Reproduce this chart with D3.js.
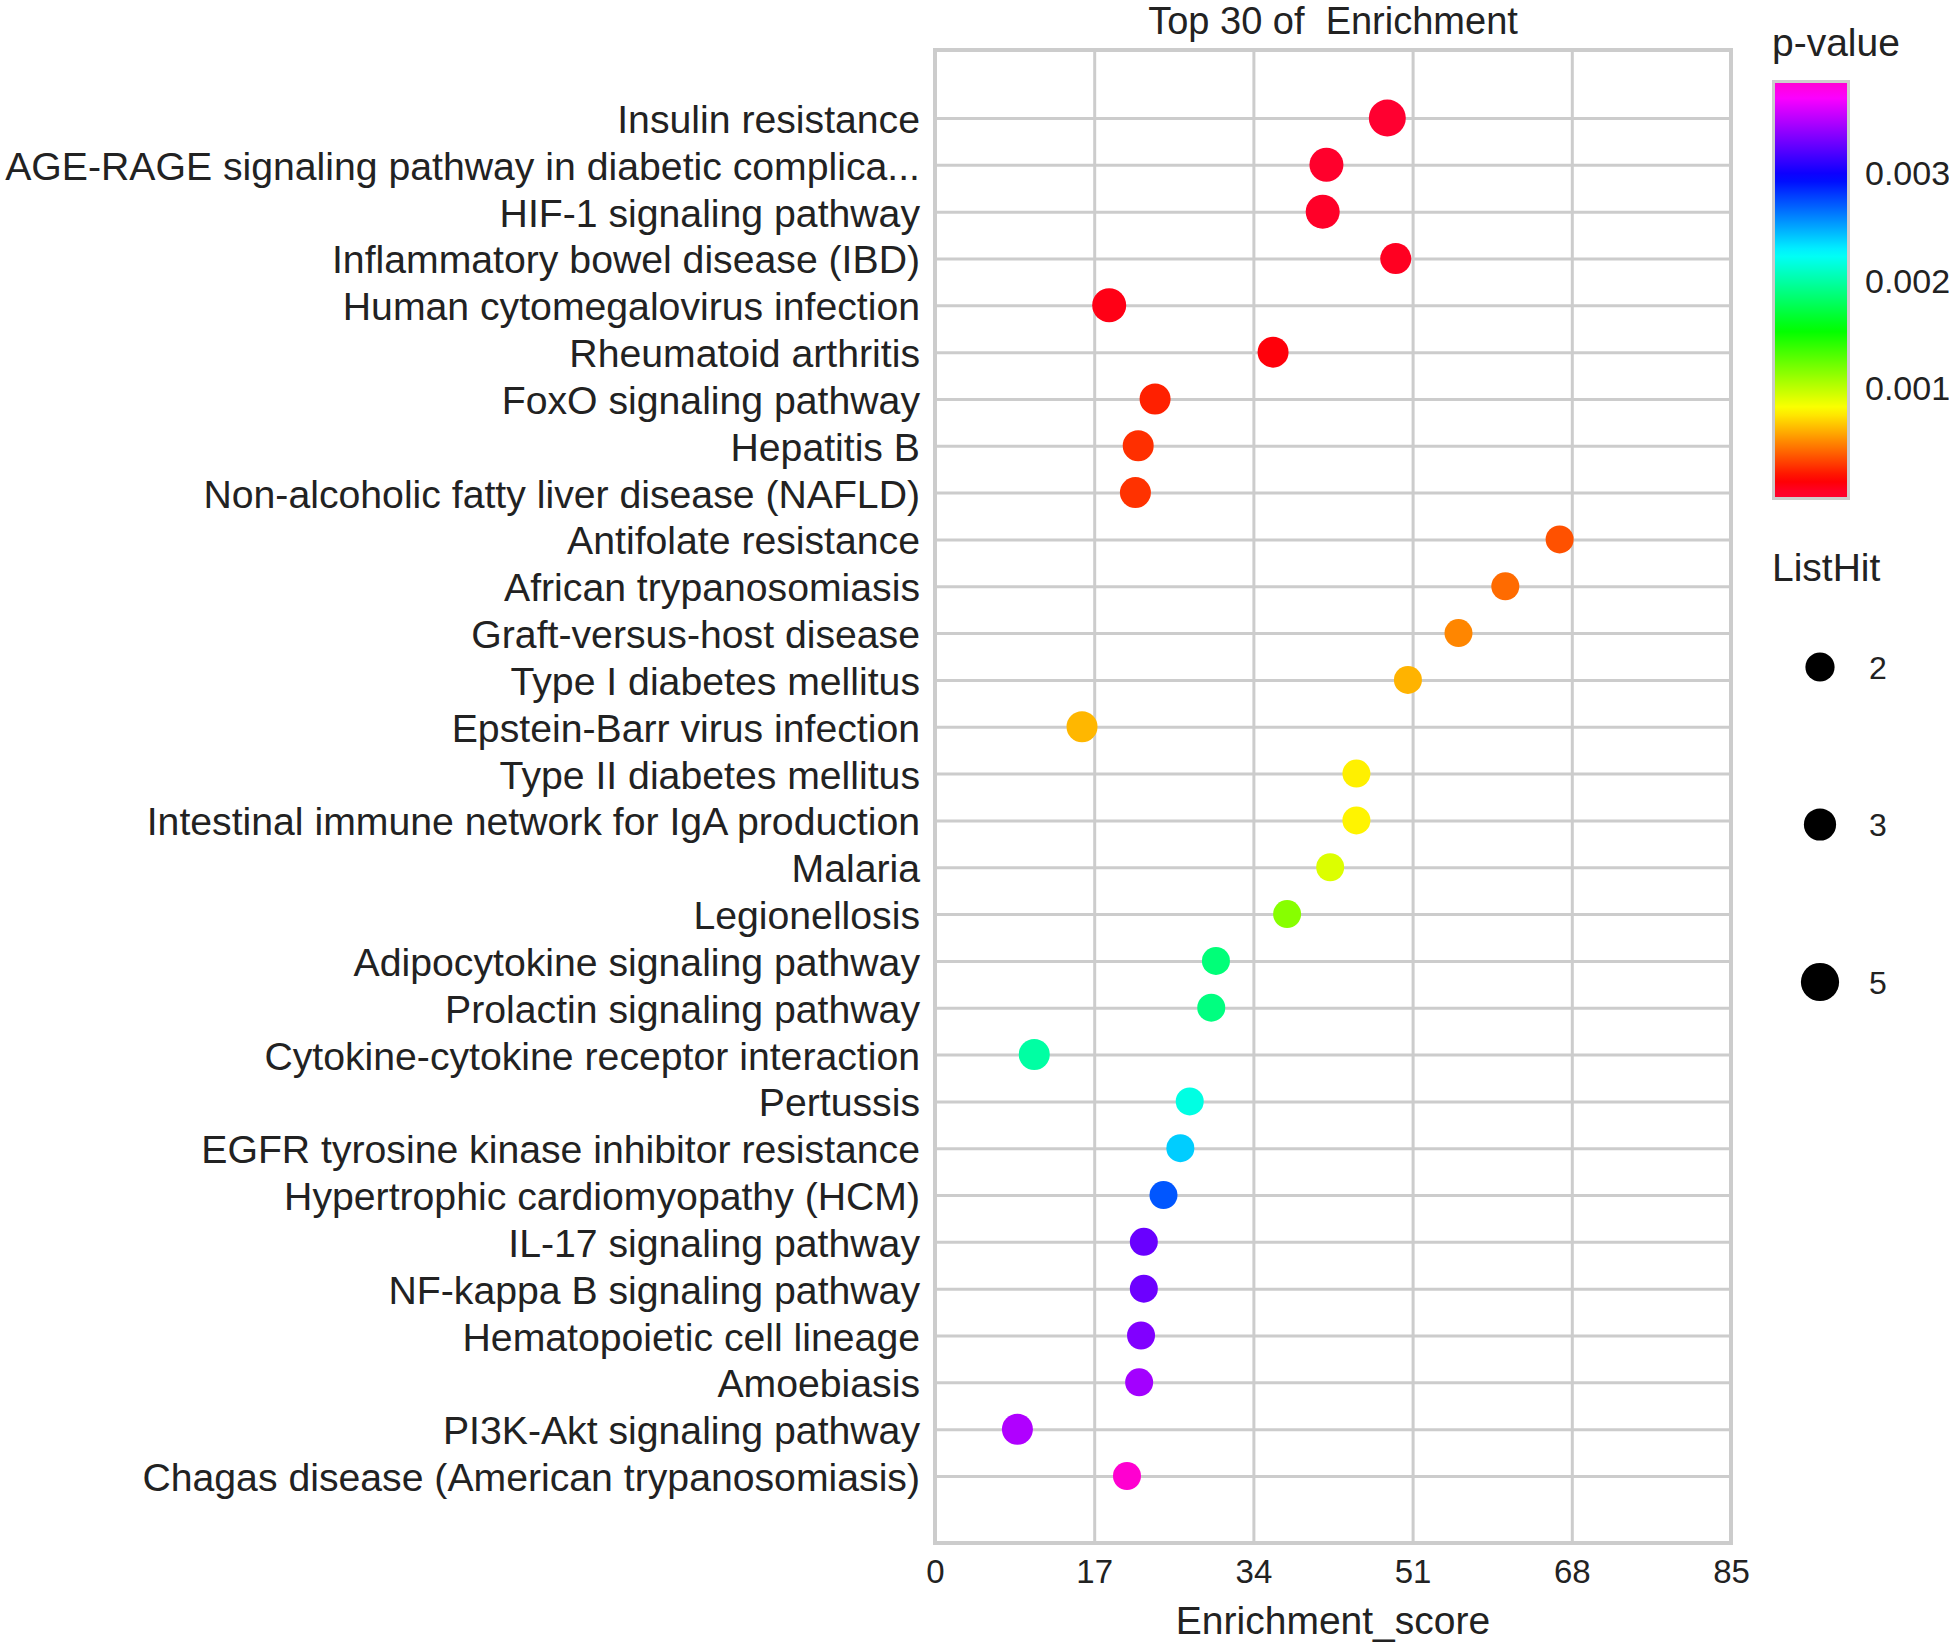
<!DOCTYPE html>
<html>
<head>
<meta charset="utf-8">
<script src="https://cdn.jsdelivr.net/npm/d3@7"></script>
<style>
  body { margin: 0; background: #fff; }
  text { font-family: "Liberation Sans", Arial, sans-serif; fill: #222; }
</style>
</head>
<body>
<svg id="chart" width="1949" height="1642"></svg>
<script>
// KEGG pathways, top to bottom (sorted by p-value)
const pathways = [
  'Insulin resistance',
  'AGE-RAGE signaling pathway in diabetic complica...',
  'HIF-1 signaling pathway',
  'Inflammatory bowel disease (IBD)',
  'Human cytomegalovirus infection',
  'Rheumatoid arthritis',
  'FoxO signaling pathway',
  'Hepatitis B',
  'Non-alcoholic fatty liver disease (NAFLD)',
  'Antifolate resistance',
  'African trypanosomiasis',
  'Graft-versus-host disease',
  'Type I diabetes mellitus',
  'Epstein-Barr virus infection',
  'Type II diabetes mellitus',
  'Intestinal immune network for IgA production',
  'Malaria',
  'Legionellosis',
  'Adipocytokine signaling pathway',
  'Prolactin signaling pathway',
  'Cytokine-cytokine receptor interaction',
  'Pertussis',
  'EGFR tyrosine kinase inhibitor resistance',
  'Hypertrophic cardiomyopathy (HCM)',
  'IL-17 signaling pathway',
  'NF-kappa B signaling pathway',
  'Hematopoietic cell lineage',
  'Amoebiasis',
  'PI3K-Akt signaling pathway',
  'Chagas disease (American trypanosomiasis)'
];

const enrichmentScores = [
  48.3, 41.8, 41.4, 49.2, 18.6, 36.1, 23.5, 21.7, 21.4, 66.7,
  60.9, 55.9, 50.5, 15.7, 45.0, 45.0, 42.2, 37.6, 30.0, 29.5,
  10.6, 27.2, 26.2, 24.4, 22.3, 22.3, 22.0, 21.8, 8.8, 20.5
];

const pValues = [
  0.00001, 0.00002, 0.00003, 0.00005, 0.00008, 0.00011, 0.00022, 0.00026, 0.00027, 0.00035,
  0.00042, 0.00049, 0.00061, 0.00062, 0.00077, 0.00078, 0.00091, 0.00115, 0.00187, 0.00189,
  0.00199, 0.00217, 0.00239, 0.00272, 0.00327, 0.00328, 0.00334, 0.00344, 0.00348, 0.00385
];

const listHits = [
  5, 4, 4, 3, 4, 3, 3, 3, 3, 2,
  2, 2, 2, 3, 2, 2, 2, 2, 2, 2,
  3, 2, 2, 2, 2, 2, 2, 2, 3, 2
];

const xTicks = [0, 17, 34, 51, 68, 85];
const pTicks = [0.001, 0.002, 0.003];
const hitLegend = [2, 3, 5];

const data = pathways.map((name, i) => ({
  name: name,
  score: enrichmentScores[i],
  p: pValues[i],
  hits: listHits[i]
}));

const svg = d3.select('#chart');
svg.append('rect').attr('width', 1949).attr('height', 1642).attr('fill', '#fff');

const plotLeft = 935, plotRight = 1731, plotTop = 50, plotBottom = 1543;
const gridColor = '#cccccc';

const x = d3.scaleLinear().domain([0, 85]).range([plotLeft, plotRight]);
const y = d3.scalePoint().domain(pathways).range([118, 1476]);
const r = d3.scaleLinear().domain([2, 5]).range([14, 18.5]);

const pMin = d3.min(pValues), pMax = d3.max(pValues);
const color = d3.scaleLinear()
  .domain([pMin, 0.00081, 0.00153, 0.00225, 0.00296, pMax])
  .range(['#ff0030', '#ffff00', '#00ff00', '#00ffff', '#0000ff', '#ff00d0'])
  .interpolate(d3.interpolateHsl)
  .clamp(true);

// vertical grid + x tick labels
const xAxis = svg.append('g')
  .attr('transform', `translate(0,${plotBottom})`)
  .call(d3.axisBottom(x).tickValues(xTicks).tickSize(-(plotBottom - plotTop)).tickPadding(17));
xAxis.select('.domain').remove();
xAxis.selectAll('line').attr('stroke', gridColor).attr('stroke-width', 3);
xAxis.selectAll('text').attr('font-size', 33).attr('fill', '#222');

// horizontal grid + pathway labels
const yAxis = svg.append('g')
  .attr('transform', `translate(${plotLeft},0)`)
  .call(d3.axisLeft(y).tickSize(-(plotRight - plotLeft)).tickPadding(15));
yAxis.select('.domain').remove();
yAxis.selectAll('line').attr('stroke', gridColor).attr('stroke-width', 3);
yAxis.selectAll('text').attr('font-size', 39.2).attr('dy', '0.37em').attr('fill', '#222');

// plot frame
svg.append('rect')
  .attr('x', plotLeft).attr('y', plotTop)
  .attr('width', plotRight - plotLeft).attr('height', plotBottom - plotTop)
  .attr('fill', 'none').attr('stroke', gridColor).attr('stroke-width', 4);

// dots
svg.append('g').selectAll('circle').data(data).enter()
  .append('circle')
  .attr('cx', (d) => x(d.score))
  .attr('cy', (d) => y(d.name))
  .attr('r', (d) => r(d.hits))
  .attr('fill', (d) => color(d.p));

// titles
svg.append('text')
  .attr('x', (plotLeft + plotRight) / 2).attr('y', 34)
  .attr('text-anchor', 'middle').attr('font-size', 38)
  .style('white-space', 'pre')
  .text('Top 30 of  Enrichment');

svg.append('text')
  .attr('x', (plotLeft + plotRight) / 2).attr('y', 1634)
  .attr('text-anchor', 'middle').attr('font-size', 39)
  .text('Enrichment_score');

// colour bar
const barX = 1773.5, barTop = 81.5, barW = 75, barH = 417;
const cy = d3.scaleLinear().domain([pMin, pMax]).range([494, 82]);

const grad = svg.append('defs').append('linearGradient')
  .attr('id', 'pgrad').attr('x1', 0).attr('y1', 0).attr('x2', 0).attr('y2', 1);
d3.range(0, 1.0001, 0.02).forEach((o) => {
  grad.append('stop')
    .attr('offset', o)
    .attr('stop-color', color(cy.invert(barTop + o * barH)));
});

svg.append('text')
  .attr('x', 1772).attr('y', 56).attr('font-size', 39)
  .text('p-value');

svg.append('rect')
  .attr('x', barX).attr('y', barTop).attr('width', barW).attr('height', barH)
  .attr('fill', 'url(#pgrad)').attr('stroke', gridColor).attr('stroke-width', 3);

svg.append('g').selectAll('text').data(pTicks).enter()
  .append('text')
  .attr('x', 1865)
  .attr('y', (d) => cy(d))
  .attr('dy', '0.36em')
  .attr('font-size', 34)
  .text((d) => d3.format('.3f')(d));

// size legend
svg.append('text')
  .attr('x', 1772).attr('y', 581).attr('font-size', 39)
  .text('ListHit');

const legendY = d3.scalePoint().domain(hitLegend).range([667, 982]);
const lg = svg.append('g').selectAll('g').data(hitLegend).enter().append('g');
lg.append('circle')
  .attr('cx', 1820).attr('cy', (d) => legendY(d))
  .attr('r', (d) => r(d) + 0.6).attr('fill', '#000');
lg.append('text')
  .attr('x', 1869).attr('y', (d) => legendY(d))
  .attr('dy', '0.36em').attr('font-size', 32)
  .text((d) => d);
</script>
</body>
</html>
